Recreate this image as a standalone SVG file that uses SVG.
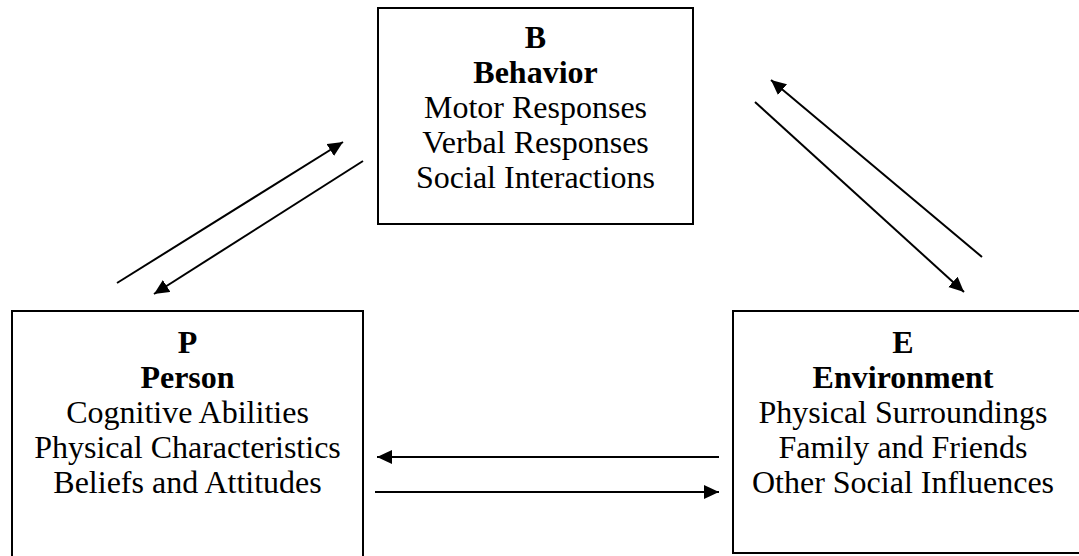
<svg xmlns="http://www.w3.org/2000/svg" width="1079" height="556" viewBox="0 0 1079 556">
  <style>
    .box { fill: #ffffff; stroke: #000000; stroke-width: 2; }
    .t { font-family: "Liberation Serif", "Times New Roman", serif; font-size: 32px; fill: #000000; text-anchor: middle; }
    .b { font-weight: bold; }
    .conn line { stroke: #000000; stroke-width: 2; marker-end: url(#ah); }
  </style>
  <defs>
    <marker id="ah" markerUnits="userSpaceOnUse" markerWidth="16" markerHeight="15" refX="15" refY="7" orient="auto">
      <path d="M0,0 L15,7 L0,14 z" fill="#000000"/>
    </marker>
  </defs>
  <rect width="1079" height="556" fill="#ffffff"/>

  <g id="node-behavior">
    <rect class="box" x="378" y="8" width="315" height="216"/>
    <text class="t b" x="535.5" y="48">B</text>
    <text class="t b" x="535.5" y="83">Behavior</text>
    <text class="t" x="535.5" y="118">Motor Responses</text>
    <text class="t" x="535.5" y="153">Verbal Responses</text>
    <text class="t" x="535.5" y="188">Social Interactions</text>
  </g>

  <g id="node-person">
    <rect class="box" x="12" y="311" width="351" height="260"/>
    <text class="t b" x="187.5" y="353">P</text>
    <text class="t b" x="187.5" y="388">Person</text>
    <text class="t" x="187.5" y="423">Cognitive Abilities</text>
    <text class="t" x="187.5" y="458">Physical Characteristics</text>
    <text class="t" x="187.5" y="493">Beliefs and Attitudes</text>
  </g>

  <g id="node-environment">
    <rect class="box" x="733" y="311" width="360" height="242"/>
    <text class="t b" x="903" y="353">E</text>
    <text class="t b" x="903" y="388">Environment</text>
    <text class="t" x="903" y="423">Physical Surroundings</text>
    <text class="t" x="903" y="458">Family and Friends</text>
    <text class="t" x="903" y="493">Other Social Influences</text>
  </g>

  <g id="connectors" class="conn">
    <line x1="117" y1="283" x2="343" y2="142"/>
    <line x1="363" y1="161" x2="154" y2="294"/>
    <line x1="982" y1="257" x2="771" y2="80"/>
    <line x1="755" y1="102" x2="964" y2="292"/>
    <line x1="719" y1="457" x2="377" y2="457"/>
    <line x1="375" y1="492" x2="719" y2="492"/>
  </g>
</svg>
